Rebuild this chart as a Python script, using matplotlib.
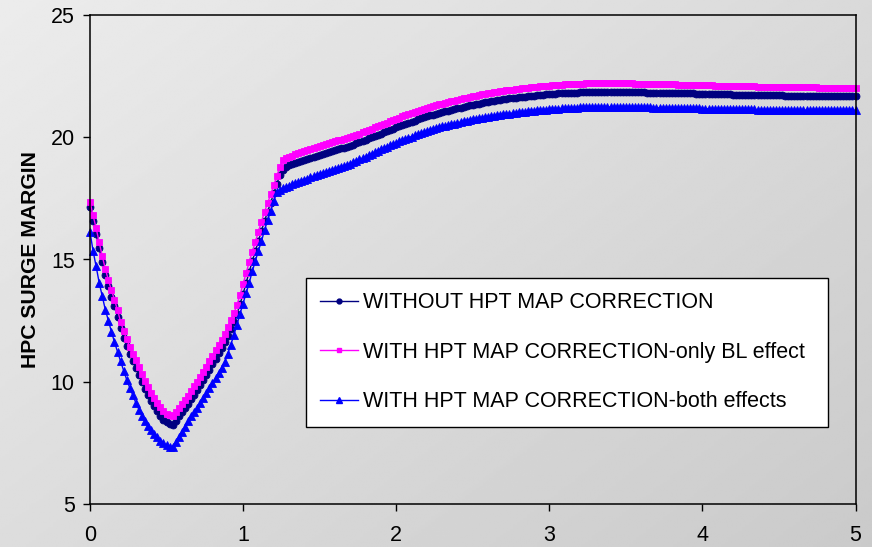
import numpy as np
import matplotlib
matplotlib.use("Agg")
import matplotlib.pyplot as plt
from matplotlib.lines import Line2D

plt.rcParams['font.family'] = ['Liberation Sans', 'DejaVu Sans']

# Time axis sampling step of the transient (values listed every 0.02)
time_step = 0.02

labels = [
    "WITHOUT HPT MAP CORRECTION",
    "WITH HPT MAP CORRECTION-only BL effect",
    "WITH HPT MAP CORRECTION-both effects",
]

# HPC surge margin, no HPT map correction
sm_without = [
    17.13, 16.58, 16.03, 15.46, 14.90, 14.37, 13.90, 13.48, 13.08, 12.65,
    12.19, 11.79, 11.45, 11.13, 10.84, 10.57, 10.29, 10.00, 9.72, 9.46,
    9.22, 9.00, 8.79, 8.60, 8.45, 8.34, 8.26, 8.22, 8.40, 8.58,
    8.75, 8.92, 9.09, 9.28, 9.47, 9.66, 9.86, 10.07, 10.28, 10.49,
    10.72, 10.94, 11.16, 11.38, 11.62, 11.89, 12.16, 12.44, 12.78, 13.17,
    13.60, 14.05, 14.50, 14.93, 15.34, 15.76, 16.17, 16.58, 16.95, 17.32,
    17.70, 18.08, 18.45, 18.65, 18.78, 18.85, 18.90, 18.95, 18.99, 19.04,
    19.08, 19.12, 19.16, 19.20, 19.24, 19.28, 19.32, 19.36, 19.40, 19.44,
    19.48, 19.52, 19.55, 19.58, 19.61, 19.65, 19.70, 19.75, 19.80, 19.85,
    19.90, 19.95, 20.00, 20.05, 20.10, 20.15, 20.20, 20.25, 20.30, 20.35,
    20.40, 20.45, 20.50, 20.55, 20.60, 20.64, 20.68, 20.73, 20.77, 20.81,
    20.85, 20.89, 20.92, 20.96, 20.99, 21.03, 21.06, 21.09, 21.12, 21.15,
    21.18, 21.21, 21.24, 21.27, 21.30, 21.33, 21.35, 21.38, 21.40, 21.43,
    21.45, 21.47, 21.49, 21.51, 21.53, 21.55, 21.57, 21.59, 21.60, 21.62,
    21.63, 21.65, 21.66, 21.68, 21.69, 21.70, 21.72, 21.73, 21.74, 21.75,
    21.76, 21.77, 21.78, 21.79, 21.80, 21.81, 21.81, 21.82, 21.83, 21.83,
    21.84, 21.84, 21.85, 21.85, 21.85, 21.86, 21.86, 21.86, 21.86, 21.86,
    21.86, 21.86, 21.86, 21.85, 21.85, 21.85, 21.85, 21.85, 21.84, 21.84,
    21.84, 21.84, 21.83, 21.83, 21.83, 21.83, 21.82, 21.82, 21.82, 21.81,
    21.81, 21.81, 21.80, 21.80, 21.80, 21.79, 21.79, 21.79, 21.78, 21.78,
    21.78, 21.77, 21.77, 21.77, 21.76, 21.76, 21.76, 21.75, 21.75, 21.75,
    21.74, 21.74, 21.74, 21.74, 21.73, 21.73, 21.73, 21.73, 21.72, 21.72,
    21.72, 21.72, 21.71, 21.71, 21.71, 21.71, 21.71, 21.70, 21.70, 21.70,
    21.70, 21.70, 21.69, 21.69, 21.69, 21.69, 21.69, 21.69, 21.68, 21.68,
    21.68, 21.68, 21.68, 21.68, 21.67, 21.67, 21.67, 21.67, 21.67, 21.67,
    21.67,
]

# HPC surge margin, HPT map corrected for boundary-layer effect only
sm_bl_only = [
    17.35, 16.82, 16.28, 15.70, 15.14, 14.62, 14.16, 13.74, 13.35, 12.92,
    12.46, 12.07, 11.73, 11.42, 11.14, 10.88, 10.60, 10.32, 10.04, 9.79,
    9.56, 9.34, 9.13, 8.95, 8.81, 8.70, 8.62, 8.58, 8.75, 8.92,
    9.09, 9.26, 9.43, 9.62, 9.81, 10.00, 10.20, 10.41, 10.62, 10.83,
    11.06, 11.28, 11.50, 11.72, 11.97, 12.25, 12.52, 12.80, 13.15, 13.55,
    14.00, 14.45, 14.90, 15.32, 15.72, 16.14, 16.55, 16.95, 17.30, 17.66,
    18.03, 18.40, 18.80, 19.05, 19.14, 19.20, 19.25, 19.30, 19.34, 19.39,
    19.43, 19.47, 19.51, 19.55, 19.59, 19.63, 19.67, 19.71, 19.75, 19.79,
    19.83, 19.87, 19.90, 19.93, 19.96, 20.00, 20.05, 20.10, 20.15, 20.20,
    20.25, 20.30, 20.35, 20.40, 20.45, 20.50, 20.55, 20.60, 20.65, 20.70,
    20.75, 20.80, 20.85, 20.90, 20.95, 20.99, 21.03, 21.08, 21.12, 21.16,
    21.20, 21.24, 21.27, 21.31, 21.34, 21.38, 21.41, 21.44, 21.47, 21.50,
    21.53, 21.56, 21.59, 21.62, 21.65, 21.68, 21.70, 21.73, 21.75, 21.78,
    21.80, 21.82, 21.84, 21.86, 21.88, 21.90, 21.92, 21.94, 21.95, 21.97,
    21.98, 22.00, 22.01, 22.03, 22.04, 22.05, 22.07, 22.08, 22.09, 22.10,
    22.11, 22.12, 22.13, 22.14, 22.15, 22.16, 22.16, 22.17, 22.18, 22.18,
    22.19, 22.19, 22.20, 22.20, 22.20, 22.21, 22.21, 22.21, 22.21, 22.21,
    22.21, 22.21, 22.21, 22.20, 22.20, 22.20, 22.20, 22.20, 22.19, 22.19,
    22.19, 22.19, 22.18, 22.18, 22.18, 22.18, 22.17, 22.17, 22.17, 22.16,
    22.16, 22.16, 22.15, 22.15, 22.15, 22.14, 22.14, 22.14, 22.13, 22.13,
    22.13, 22.12, 22.12, 22.12, 22.11, 22.11, 22.11, 22.10, 22.10, 22.10,
    22.09, 22.09, 22.09, 22.09, 22.08, 22.08, 22.08, 22.08, 22.07, 22.07,
    22.07, 22.07, 22.06, 22.06, 22.06, 22.06, 22.06, 22.05, 22.05, 22.05,
    22.05, 22.05, 22.04, 22.04, 22.04, 22.04, 22.04, 22.04, 22.03, 22.03,
    22.03, 22.03, 22.03, 22.03, 22.02, 22.02, 22.02, 22.02, 22.02, 22.02,
    22.02,
]

# HPC surge margin, HPT map corrected for both effects
sm_both = [
    16.13, 15.35, 14.72, 14.05, 13.50, 12.95, 12.50, 12.05, 11.62, 11.22,
    10.83, 10.45, 10.08, 9.75, 9.44, 9.13, 8.86, 8.61, 8.39, 8.20,
    8.02, 7.86, 7.72, 7.59, 7.48, 7.40, 7.35, 7.33, 7.55, 7.75,
    7.95, 8.16, 8.38, 8.58, 8.76, 8.93, 9.12, 9.32, 9.53, 9.74,
    9.95, 10.15, 10.36, 10.57, 10.82, 11.14, 11.52, 11.92, 12.34, 12.78,
    13.20, 13.62, 14.05, 14.52, 14.94, 15.36, 15.75, 16.20, 16.62, 17.00,
    17.38, 17.76, 17.85, 17.92, 17.97, 18.02, 18.07, 18.12, 18.17, 18.22,
    18.27, 18.31, 18.36, 18.41, 18.45, 18.50, 18.54, 18.58, 18.62, 18.66,
    18.70, 18.74, 18.78, 18.82, 18.86, 18.91, 18.97, 19.03, 19.09, 19.15,
    19.21, 19.27, 19.33, 19.39, 19.45, 19.50, 19.56, 19.62, 19.67, 19.72,
    19.77, 19.83, 19.88, 19.93, 19.98, 20.03, 20.08, 20.13, 20.17, 20.21,
    20.25, 20.29, 20.33, 20.37, 20.41, 20.44, 20.47, 20.50, 20.53, 20.56,
    20.59, 20.62, 20.65, 20.68, 20.71, 20.73, 20.76, 20.78, 20.80, 20.82,
    20.84, 20.86, 20.88, 20.90, 20.92, 20.94, 20.96, 20.97, 20.99, 21.00,
    21.02, 21.03, 21.05, 21.06, 21.07, 21.09, 21.10, 21.11, 21.12, 21.13,
    21.14, 21.15, 21.16, 21.17, 21.18, 21.19, 21.19, 21.20, 21.21, 21.21,
    21.22, 21.22, 21.23, 21.23, 21.23, 21.24, 21.24, 21.24, 21.24, 21.24,
    21.24, 21.24, 21.24, 21.24, 21.24, 21.23, 21.23, 21.23, 21.23, 21.23,
    21.22, 21.22, 21.22, 21.22, 21.21, 21.21, 21.21, 21.21, 21.20, 21.20,
    21.20, 21.20, 21.19, 21.19, 21.19, 21.19, 21.18, 21.18, 21.18, 21.18,
    21.17, 21.17, 21.17, 21.17, 21.16, 21.16, 21.16, 21.16, 21.15, 21.15,
    21.15, 21.15, 21.15, 21.14, 21.14, 21.14, 21.14, 21.14, 21.13, 21.13,
    21.13, 21.13, 21.13, 21.13, 21.12, 21.12, 21.12, 21.12, 21.12, 21.12,
    21.12, 21.12, 21.11, 21.11, 21.11, 21.11, 21.11, 21.11, 21.11, 21.11,
    21.11, 21.11, 21.11, 21.11, 21.10, 21.10, 21.10, 21.10, 21.10, 21.10,
    21.10,
]

x_ticks = [0, 1, 2, 3, 4, 5]
y_ticks = [5, 10, 15, 20, 25]

W, H, DPI = 872, 547, 100
fig = plt.figure(figsize=(W / DPI, H / DPI), dpi=DPI)

# Diagonal light-grey gradient behind everything
bg = fig.add_axes([0, 0, 1, 1], zorder=-10)
gx, gy = np.meshgrid(np.linspace(0, 1, 256), np.linspace(0, 1, 256))
shade = (236 - 34 * (0.55 * gx + 0.45 * gy)) / 255.0
bg.imshow(shade, cmap='gray', vmin=0, vmax=1, aspect='auto',
          extent=[0, 1, 0, 1], origin='upper', interpolation='bilinear')
bg.set_axis_off()

left, right = 90 / W, 855.5 / W
bottom, top = 1 - 504 / H, 1 - 15 / H
ax = fig.add_axes([left, bottom, right - left, top - bottom])
ax.set_facecolor('none')

styles = [
    dict(color='#000080', marker='o', markersize=5.0),
    dict(color='#FF00FF', marker='s', markersize=5.0),
    dict(color='#0000FF', marker='^', markersize=5.6),
]
series = [sm_without, sm_bl_only, sm_both]
for vals, st, lab in zip(series, styles, labels):
    t = np.arange(len(vals)) * time_step
    ax.plot(t, vals, color=st['color'], marker=st['marker'],
            markersize=st['markersize'], markerfacecolor=st['color'],
            markeredgecolor=st['color'], markeredgewidth=0.6,
            linewidth=1.0, label=lab, clip_on=False)

ax.set_xlim(0, 5)
ax.set_ylim(5, 25)
ax.set_xticks(x_ticks)
ax.set_yticks(y_ticks)
for sp in ax.spines.values():
    sp.set_color('black')
    sp.set_linewidth(1.1)
ax.tick_params(axis='both', direction='out', length=5, width=1,
               labelsize=15.5, colors='black')
ax.tick_params(axis='x', pad=10)
ax.tick_params(axis='y', pad=6)

fig.text(31 / W, (bottom + top) / 2, "HPC SURGE MARGIN", rotation=90,
         ha='center', va='center', fontsize=15.2, fontweight='bold')

handles = [Line2D([], [], color=st['color'], marker=st['marker'],
                  markersize=st['markersize'] * 0.7, linewidth=1.0)
           for st in styles]
# Legend box spans a fixed width; entries stay left-aligned inside it
leg_x0, leg_w = 306 / W, 522 / W
leg_top = 1 - 278 / H
leg = ax.legend(handles, labels, loc='upper left', mode='expand',
                bbox_to_anchor=(leg_x0, leg_top - 0.3, leg_w, 0.3),
                bbox_transform=fig.transFigure, fontsize=15.5,
                frameon=True, fancybox=False, shadow=False,
                borderpad=0.66, labelspacing=1.33, handlelength=1.75,
                handletextpad=0.25, borderaxespad=0.0)
leg.get_frame().set_edgecolor('black')
leg.get_frame().set_facecolor('white')
leg.get_frame().set_linewidth(1.0)
leg.get_frame().set_alpha(1.0)

fig.savefig("out.png", dpi=DPI)
